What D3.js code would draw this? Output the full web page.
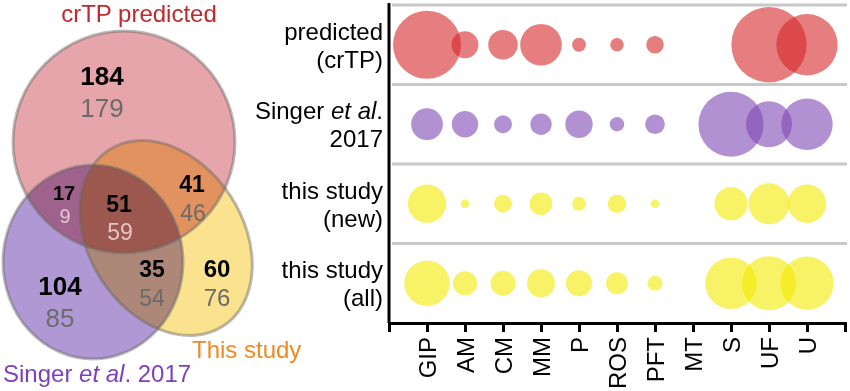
<!DOCTYPE html>
<html><head><meta charset="utf-8">
<script src="https://cdn.jsdelivr.net/npm/d3@7"></script>
<style>
html,body{margin:0;padding:0;background:#fff;}
svg{display:block;font-family:"Liberation Sans",Arial,sans-serif;}
</style></head>
<body>
<svg id="chart" width="850" height="391"></svg>
<script>
// ---------- data ----------
const categories = ["GIP","AM","CM","MM","P","ROS","PFT","MT","S","UF","U"];
const rowKeys = ["crtp","singer","new","all"];
const crtpValues   = [96, 15, 18, 36, 4, 3.8, 6.4, 0, 0, 118, 78];
const singerValues = [21, 14.5, 6.7, 9.5, 15.6, 4.3, 8, 0, 88, 44, 55];
const newValues    = [30.6, 1.5, 6.7, 10.6, 4, 7.2, 1.5, 0, 23, 35, 30.6];
const allValues    = [43, 12, 13, 16.3, 14, 10, 4.7, 0, 55, 61, 59];
const vennBold = [184, 17, 51, 41, 104, 35, 60];
const vennGray = [179, 9, 59, 46, 85, 54, 76];
const setNames = ["crTP predicted", "Singer et al. 2017", "This study"];

const seriesByRow = {crtp: crtpValues, singer: singerValues, new: newValues, all: allValues};
const rowColors = {crtp: "#d62728", singer: "#7f48b4", new: "#f4ea00", all: "#f4ea00"};

const svg = d3.select("#chart");

// ---------- Venn ----------
const venn = svg.append("g").style("isolation","isolate");
const shapes = [
  {type:"circle", cx:124, cy:142, r:111, fill:"#e6a5aa"},
  {type:"ellipse", cx:93, cy:262, rx:90, ry:97, rot:0, fill:"#b098d4"},
  {type:"ellipse", cx:166, cy:238, rx:105, ry:77, rot:57, fill:"#fbe28f"}
];
function drawShape(g, s){
  if(s.type==="circle") return g.append("circle").attr("cx",s.cx).attr("cy",s.cy).attr("r",s.r);
  return g.append("ellipse").attr("transform",`translate(${s.cx},${s.cy}) rotate(${s.rot})`).attr("rx",s.rx).attr("ry",s.ry);
}
shapes.forEach(s=> drawShape(venn,s).attr("fill",s.fill).style("mix-blend-mode","multiply"));
shapes.forEach(s=> drawShape(svg,s).attr("fill","none").attr("stroke","rgba(105,105,100,0.45)").attr("stroke-width",3));

// number positions (layout)
const boldPos = [[102,85,26],[64,200,20],[119,212,23],[192,192,23],[60,295,26],[152,277,23],[217,277,24]];
const grayPos = [[102,117,26],[65,223,20],[120,240,23],[193,221,23],[60,327,26],[152,306,23],[217,306,24]];
const grayCol = ["#6b6b6b","#e2c6d0","#e6c4bc","#6b6b6b","#6b6b6b","#6b6b6b","#6b6b6b"];
vennBold.forEach((v,i)=>{
  svg.append("text").attr("x",boldPos[i][0]).attr("y",boldPos[i][1]).attr("text-anchor","middle")
    .attr("font-size",boldPos[i][2]).attr("font-weight","bold").attr("fill","#000").text(v);
});
vennGray.forEach((v,i)=>{
  svg.append("text").attr("x",grayPos[i][0]).attr("y",grayPos[i][1]).attr("text-anchor","middle")
    .attr("font-size",grayPos[i][2]).attr("fill",grayCol[i]).text(v);
});
svg.append("text").attr("x",139).attr("y",22).attr("text-anchor","middle").attr("font-size",24)
  .attr("fill","#c1272d").text(setNames[0]);
const sg = svg.append("text").attr("x",3).attr("y",382).attr("font-size",24).attr("fill","#7e3fbf");
sg.append("tspan").text("Singer ");
sg.append("tspan").attr("font-style","italic").text("et al");
sg.append("tspan").text(". 2017");
svg.append("text").attr("x",192).attr("y",358).attr("font-size",24).attr("fill","#ef8a22").text(setNames[2]);

// ---------- bubble chart ----------
const x = d3.scalePoint().domain(categories).range([389,845]).padding(1);
const y = d3.scaleBand().domain(rowKeys).range([5,323]);
const r = d3.scaleSqrt().domain([0,120]).range([0,38]);

// gridlines
svg.append("g").selectAll("line").data(rowKeys).join("line")
  .attr("x1",392).attr("x2",847)
  .attr("y1",d=>y(d)).attr("y2",d=>y(d))
  .attr("stroke","#c8c8c8").attr("stroke-width",3);

// bubbles
rowKeys.forEach(k=>{
  svg.append("g").selectAll("circle")
    .data(categories.map((c,i)=>({c, v: seriesByRow[k][i]})).filter(d=>d.v>0))
    .join("circle")
    .attr("cx",d=>x(d.c))
    .attr("cy",y(k)+y.bandwidth()/2)
    .attr("r",d=>r(d.v))
    .attr("fill",rowColors[k]).attr("fill-opacity",0.6);
});

// x axis
const xa = svg.append("g").attr("transform","translate(0,323)")
  .call(d3.axisBottom(x).tickSize(9).tickSizeOuter(9));
xa.select(".domain").attr("stroke","#000").attr("stroke-width",3);
xa.selectAll(".tick line").attr("stroke","#000").attr("stroke-width",3);
xa.selectAll(".tick text")
  .attr("font-size",24).attr("font-family","Liberation Sans, Arial, sans-serif").attr("fill","#000")
  .attr("text-anchor","end")
  .attr("transform","rotate(-90)")
  .attr("x",-14).attr("y",0).attr("dy","0.35em");

// y axis
const ya = svg.append("g").attr("transform","translate(389,0)")
  .call(d3.axisLeft(y).tickSize(0).tickSizeOuter(0).tickFormat(""));
ya.select(".domain").attr("stroke","#000").attr("stroke-width",3).attr("d","M0,3V323");

const rowLabels = {
  crtp: [[["predicted",false]],[["(crTP)",false]]],
  singer: [[["Singer ",false],["et al",true],[".",false]],[["2017",false]]],
  new: [[["this study",false]],[["(new)",false]]],
  all: [[["this study",false]],[["(all)",false]]]
};
rowKeys.forEach(k=>{
  const cy = y(k)+y.bandwidth()/2;
  rowLabels[k].forEach((line,li)=>{
    const t = svg.append("text").attr("x",383).attr("y",cy + (li===0?-5:23))
      .attr("text-anchor","end").attr("font-size",24).attr("fill","#000");
    line.forEach(([s,it])=> t.append("tspan").attr("font-style",it?"italic":"normal").text(s));
  });
});
</script>
</body></html>
